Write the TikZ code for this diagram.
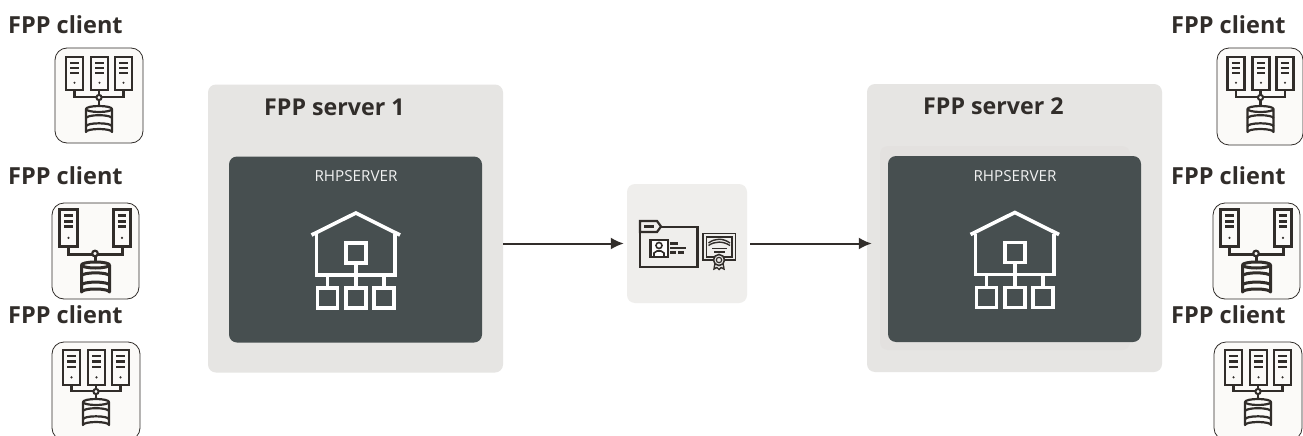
\documentclass[tikz,border=0pt]{standalone}
\usepackage{fontspec}
\usetikzlibrary{arrows.meta}
\setmainfont{Open Sans}
\definecolor{ink}{HTML}{312D2A}
\definecolor{panel}{HTML}{E6E5E3}
\definecolor{inner}{HTML}{E3E1DF}
\definecolor{slate}{HTML}{474F50}
\definecolor{midbox}{HTML}{EFEEEC}
\definecolor{clientfill}{HTML}{FBFAF8}
\newcommand{\srvicon}[5]{% x1 y1 x2 y2 lw
  \draw[line width=#5pt,ink,fill=clientfill] (#1,#2) rectangle (#3,#4);
  \pgfmathsetmacro{\sxa}{#1+0.25*(#3-#1)}\pgfmathsetmacro{\sxb}{#3-0.25*(#3-#1)}
  \foreach \f in {0.17,0.33,0.48}{
    \pgfmathsetmacro{\sy}{#2+\f*(#4-#2)}
    \draw[line width=#5pt,ink] (\sxa,\sy) -- (\sxb,\sy);}
  \pgfmathsetmacro{\sxc}{(#1+#3)/2}\pgfmathsetmacro{\syc}{#2+0.78*(#4-#2)}
  \fill[ink] (\sxc,\syc) circle (1.2);
}
\newcommand{\dbicon}[5]{% x1 y1 x2 y2 lw
  \pgfmathsetmacro{\dc}{(#1+#3)/2}\pgfmathsetmacro{\drx}{(#3-#1)/2}
  \pgfmathsetmacro{\dya}{#2+3}\pgfmathsetmacro{\dyb}{#2+(#4-#2)*0.42}\pgfmathsetmacro{\dyc}{#2+(#4-#2)*0.70}\pgfmathsetmacro{\dyd}{#4-3}
  \draw[line width=#5pt,ink,fill=clientfill,line join=round] (#1,\dya) arc[start angle=180,end angle=0,x radius=\drx,y radius=3] -- (#3,\dyd) arc[start angle=0,end angle=-180,x radius=\drx,y radius=3] -- cycle;
  \draw[line width=#5pt,ink] (#1,\dya) arc[start angle=180,end angle=360,x radius=\drx,y radius=3];
  \draw[line width=#5pt,ink] (#1,\dyb) arc[start angle=180,end angle=360,x radius=\drx,y radius=3];
  \draw[line width=#5pt,ink] (#1,\dyc) arc[start angle=180,end angle=360,x radius=\drx,y radius=3];
}
\newcommand{\houseicon}[2]{%
  \begin{scope}[shift={(#1,#2)},line width=3.6pt,white,line join=miter]
    \draw (311.5,235) -- (355.8,213) -- (400,235);
    \draw (316.5,234) -- (316.5,275) -- (395,275) -- (395,234);
    \draw (345.7,243) rectangle (366,263);
    \draw (355.8,263) -- (355.8,288);
    \draw (327.5,275) -- (327.5,288);
    \draw (384,275) -- (384,288);
    \draw (317.5,288) rectangle (337.5,308);
    \draw (345.7,288) rectangle (366,308);
    \draw (373.8,288) rectangle (394,308);
  \end{scope}
}
\begin{document}
\begin{tikzpicture}[x=1pt,y=-1pt,
  titletext/.style={font=\fontsize{23.5}{26}\selectfont\bfseries,text=ink,inner sep=0pt,anchor=west},
  servertext/.style={font=\fontsize{23.2}{26}\selectfont\bfseries,text=ink,inner sep=0pt,anchor=west},
  rhptext/.style={font=\fontsize{15.2}{18}\selectfont,text=white!92!slate,inner sep=0pt},
  panelbox/.style={fill=panel,rounded corners=8pt,inner sep=0pt,minimum width=295pt,minimum height=288pt},
  darkbox/.style={fill=slate,rounded corners=8pt,inner sep=0pt,minimum width=253pt,minimum height=186pt},
  clientbox/.style={draw=ink,line width=0.8pt,fill=clientfill,rounded corners=12pt,inner sep=0pt},
  flow/.style={draw=ink,line width=2pt,-{Latex[length=13pt,width=12pt]}}]
\clip (0,0) rectangle (1303,436);
\fill[white] (0,0) rectangle (1303,436);

% servers
\node[panelbox] (srvA) at (355.5,228.5) {};
\node[panelbox] (srvB) at (1014.5,228) {};
\fill[inner,rounded corners=8pt] (880,146) rectangle (1130,350);
\node[darkbox] (rhpA) at (355.5,249.5) {};
\node[darkbox] (rhpB) at (1014.5,249) {};
\node[servertext] (tA) at (264,107) {FPP server 1};
\node[servertext] (tB) at (923,106) {FPP server 2};
\node[rhptext] (rA) at (356,176) {RHPSERVER};
\node[rhptext] (rB) at (1015,176) {RHPSERVER};
\houseicon{0}{0}
\houseicon{659}{-0.5}

% middle
\node[fill=midbox,rounded corners=8pt,inner sep=0pt,minimum width=120pt,minimum height=119pt] (mid) at (687,243.5) {};
\begin{scope}[ink,line width=2.2pt,line join=miter]
  \draw (640,231) -- (640,267) -- (697.5,267) -- (697.5,227) -- (660,227);
  \draw[fill=midbox] (640,221) -- (657,221) -- (661,226.5) -- (657,232) -- (640,232) -- cycle;
  \draw (644,226.5) -- (654,226.5);
  \draw[fill=white,line width=2.6pt] (650.5,240) rectangle (668,257);
  \draw[line width=1.6pt] (659,245.5) circle (3);
  \draw[line width=1.6pt] (654,256) -- (654,253) -- (657,251) -- (661,251) -- (664,253) -- (664,256);
  \draw (670,243.5) -- (678,243.5);
  \draw (670,248) -- (686,248);
  \draw[dash pattern=on 6pt off 2pt] (670,252.5) -- (684,252.5);
  \draw[line width=1.8pt] (703,233.5) rectangle (735.5,260);
  \draw[line width=1.2pt] (706.5,237) rectangle (732,257);
  \draw[line width=1.4pt] (708.5,243) .. controls (715,238) and (723,238) .. (730,243);
  \draw[line width=1.4pt] (708.5,245.5) .. controls (715,241) and (723,241) .. (730,245.5);
  \draw[line width=1.4pt] (712,248.5) -- (727,248.5);
  \draw[line width=1.4pt] (714,252) -- (725,252);
  \draw[line width=1.4pt] (715,263) -- (714,269) -- (717,267.5) -- (719,269.5) -- (721,267.5) -- (724,269) -- (723,263);
  \draw[fill=midbox,line width=1.6pt] (719,260) circle (5.5);
  \draw[line width=1.2pt] (719,260) circle (2.7);
\end{scope}

% arrows
\draw[flow] ([yshift=-15pt]srvA.east) -- ([xshift=-3pt]mid.west);
\draw[flow] ([xshift=3pt]mid.east) -- ([yshift=-15.5pt,xshift=5pt]srvB.west);

% client labels
\node[titletext] (c1) at (8,25) {FPP client};
\node[titletext] (c2) at (8,176) {FPP client};
\node[titletext] (c3) at (8,315) {FPP client};
\node[titletext] (c4) at (1171,25) {FPP client};
\node[titletext] (c5) at (1171,176) {FPP client};
\node[titletext] (c6) at (1171,315) {FPP client};

% client 1
\node[clientbox,minimum width=88pt,minimum height=95pt] (b1) at (99,95.5) {};
\draw[ink,line width=2.2pt] (74.5,90) |- (123.5,97) -- (123.5,90) (99,90) -- (99,106);
\srvicon{66}{57}{83}{90}{2.2}\srvicon{91}{57}{108}{90}{2.2}\srvicon{115}{57}{132}{90}{2.2}
\draw[ink,line width=2pt,fill=clientfill] (99,97.5) circle (2.6);
\dbicon{86}{106}{112}{135}{2.2}
% client 2
\node[clientbox,minimum width=87pt,minimum height=96pt] (b2) at (95.5,251) {};
\draw[ink,line width=3pt] (68.5,246) |- (122,254) -- (122,246) (95,254) -- (95,262);
\srvicon{59.5}{209}{77.5}{246}{3}\srvicon{113.5}{209}{130.5}{246}{3}
\draw[ink,line width=2.2pt,fill=clientfill] (95,253.5) circle (2.8);
\dbicon{81.5}{262}{109.5}{295}{3}
% client 3
\node[clientbox,minimum width=88pt,minimum height=98pt] (b3) at (96,391) {};
\draw[ink,line width=2.2pt] (71.5,385) |- (120.5,391) -- (120.5,385) (96,385) -- (96,399);
\srvicon{63}{350}{80}{385}{2.2}\srvicon{88}{350}{105}{385}{2.2}\srvicon{112}{350}{129}{385}{2.2}
\draw[ink,line width=2pt,fill=clientfill] (96,391.5) circle (2.6);
\dbicon{83}{399}{109}{428}{2.2}
% client 4
\node[clientbox,minimum width=86pt,minimum height=97pt] (b4) at (1260,96.5) {};
\draw[ink,line width=2.2pt] (1236,90) |- (1285,97) -- (1285,90) (1260.5,90) -- (1260.5,106);
\srvicon{1227.5}{57}{1244.5}{90}{2.2}\srvicon{1252.5}{57}{1269.5}{90}{2.2}\srvicon{1276.5}{57}{1293.5}{90}{2.2}
\draw[ink,line width=2pt,fill=clientfill] (1260.5,97.5) circle (2.6);
\dbicon{1247.5}{106}{1273.5}{135}{2.2}
% client 5
\node[clientbox,minimum width=87pt,minimum height=96pt] (b5) at (1256.5,251) {};
\draw[ink,line width=3pt] (1229.5,246) |- (1283,254) -- (1283,246) (1256,254) -- (1256,262);
\srvicon{1220.5}{209}{1238.5}{246}{3}\srvicon{1274.5}{209}{1291.5}{246}{3}
\draw[ink,line width=2.2pt,fill=clientfill] (1256,253.5) circle (2.8);
\dbicon{1242.5}{262}{1270.5}{295}{3}
% client 6
\node[clientbox,minimum width=88pt,minimum height=98pt] (b6) at (1258,391) {};
\draw[ink,line width=2.2pt] (1233.5,385) |- (1282.5,391) -- (1282.5,385) (1258,385) -- (1258,399);
\srvicon{1225}{350}{1242}{385}{2.2}\srvicon{1250}{350}{1267}{385}{2.2}\srvicon{1274}{350}{1291}{385}{2.2}
\draw[ink,line width=2pt,fill=clientfill] (1258,391.5) circle (2.6);
\dbicon{1245}{399}{1271}{428}{2.2}
\end{tikzpicture}
\end{document}
